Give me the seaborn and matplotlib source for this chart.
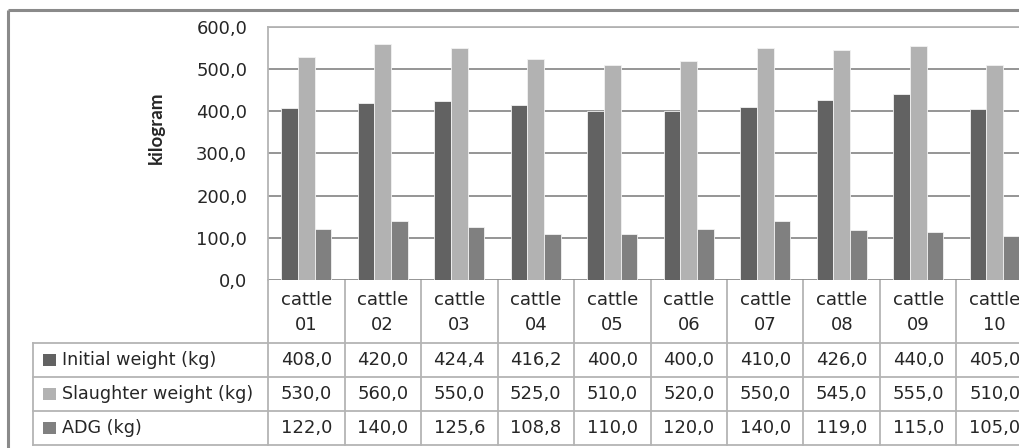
import matplotlib
matplotlib.use("Agg")
import matplotlib.pyplot as plt
import pandas as pd
import seaborn as sns
from matplotlib.patches import Rectangle
from matplotlib.transforms import blended_transform_factory

# ---- data ----
cattle = ["cattle\n01", "cattle\n02", "cattle\n03", "cattle\n04", "cattle\n05",
          "cattle\n06", "cattle\n07", "cattle\n08", "cattle\n09", "cattle\n10"]
initial_weight = [408.0, 420.0, 424.4, 416.2, 400.0, 400.0, 410.0, 426.0, 440.0, 405.0]
slaughter_weight = [530.0, 560.0, 550.0, 525.0, 510.0, 520.0, 550.0, 545.0, 555.0, 510.0]
adg = [122.0, 140.0, 125.6, 108.8, 110.0, 120.0, 140.0, 119.0, 115.0, 105.0]
series_names = ["Initial weight (kg)", "Slaughter weight (kg)", "ADG (kg)"]
y_ticks = [0, 100, 200, 300, 400, 500, 600]
y_label = "kilogram"

series_values = [initial_weight, slaughter_weight, adg]
colors = ["#626262", "#b2b2b2", "#808080"]
text_color = "#262626"
line_color = "#b4b4b4"

rows = []
for name, vals in zip(series_names, series_values):
    for c, v in zip(cattle, vals):
        rows.append({"cattle": c, "series": name, "kg": v})
df = pd.DataFrame(rows)

def fmt(v):
    return f"{v:.1f}".replace(".", ",")

# ---- figure (pixel-based layout) ----
W, H = 1020, 448
fig = plt.figure(figsize=(W / 100, H / 100), dpi=100)
plt.rcParams["font.family"] = ["DejaVu Sans"]

# overlay in pixel coordinates for the frame, legend column and table
ov = fig.add_axes([0, 0, 1, 1], zorder=0)
ov.set_xlim(0, W)
ov.set_ylim(H, 0)
ov.axis("off")

# plot area
left, right, top, zero = 268, 1033, 27, 280
ax = fig.add_axes([left / W, (H - zero) / H, (right - left) / W, (zero - top) / H], zorder=1)
ax.patch.set_alpha(0)

sns.barplot(data=df, x="cattle", y="kg", hue="series", hue_order=series_names,
            palette=colors, saturation=1, width=0.66, gap=0, errorbar=None,
            legend=False, linewidth=0.6, edgecolor="#f2f2f2", ax=ax)

ax.set_xlim(-0.5, len(cattle) - 0.5)
ax.set_ylim(0, 600)
ax.set_yticks(y_ticks)
ax.set_yticklabels([fmt(t) for t in y_ticks], fontsize=13, color=text_color)
ax.tick_params(axis="y", length=0, pad=15)
ax.tick_params(axis="x", length=0, labelbottom=False)
ax.set_xlabel("")
ax.set_ylabel("")
ax.yaxis.grid(True, color="#8c8c8c", linewidth=1.3)
ax.set_axisbelow(True)
for s in ["right", "bottom"]:
    ax.spines[s].set_visible(False)
for s in ["top", "left"]:
    ax.spines[s].set_color(line_color)
    ax.spines[s].set_linewidth(1.3)

ov.text(156, 128, y_label, rotation=90, ha="center", va="center",
        fontsize=13.5, fontweight="bold", family=["Lato", "DejaVu Sans"], color=text_color)

# outer frame
ov.plot([8, W], [10, 10], color="#8a8a8a", lw=2.2, solid_capstyle="butt")
ov.plot([8, 8], [10, H], color="#8a8a8a", lw=2.2, solid_capstyle="butt")

# ---- data table ----
tr = blended_transform_factory(ax.transData, ov.transData)
header_top, header_bottom = zero, 343
row_h = 34
row_lines = [header_bottom + i * row_h for i in range(len(series_names) + 1)]
table_left = 33

for y in row_lines:
    ov.plot([table_left, W], [y, y], color=line_color, lw=1.3)
ov.plot([table_left, table_left], [header_bottom, row_lines[-1]], color=line_color, lw=1.3)
ov.plot([-0.5, -0.5], [zero, row_lines[-1]], color=line_color, lw=1.3, transform=tr)
for i in range(len(cattle)):
    ov.plot([i + 0.5, i + 0.5], [header_top, row_lines[-1]], color=line_color, lw=1.3,
            transform=tr)

for i, c in enumerate(cattle):
    ov.text(i, (header_top + header_bottom) / 2 + 1, c, ha="center", va="center",
            fontsize=13, color=text_color, linespacing=1.5, transform=tr)

for r, (name, vals, col) in enumerate(zip(series_names, series_values, colors)):
    yc = header_bottom + r * row_h + row_h / 2
    ov.add_patch(Rectangle((43, yc - 6), 13, 12, facecolor=col, edgecolor="none"))
    ov.text(62, yc, name, ha="left", va="center", fontsize=12.6, color=text_color)
    for i, v in enumerate(vals):
        ov.text(i, yc, fmt(v), ha="center", va="center", fontsize=13,
                color=text_color, transform=tr)

fig.savefig("out.png", dpi=100, facecolor="white")
